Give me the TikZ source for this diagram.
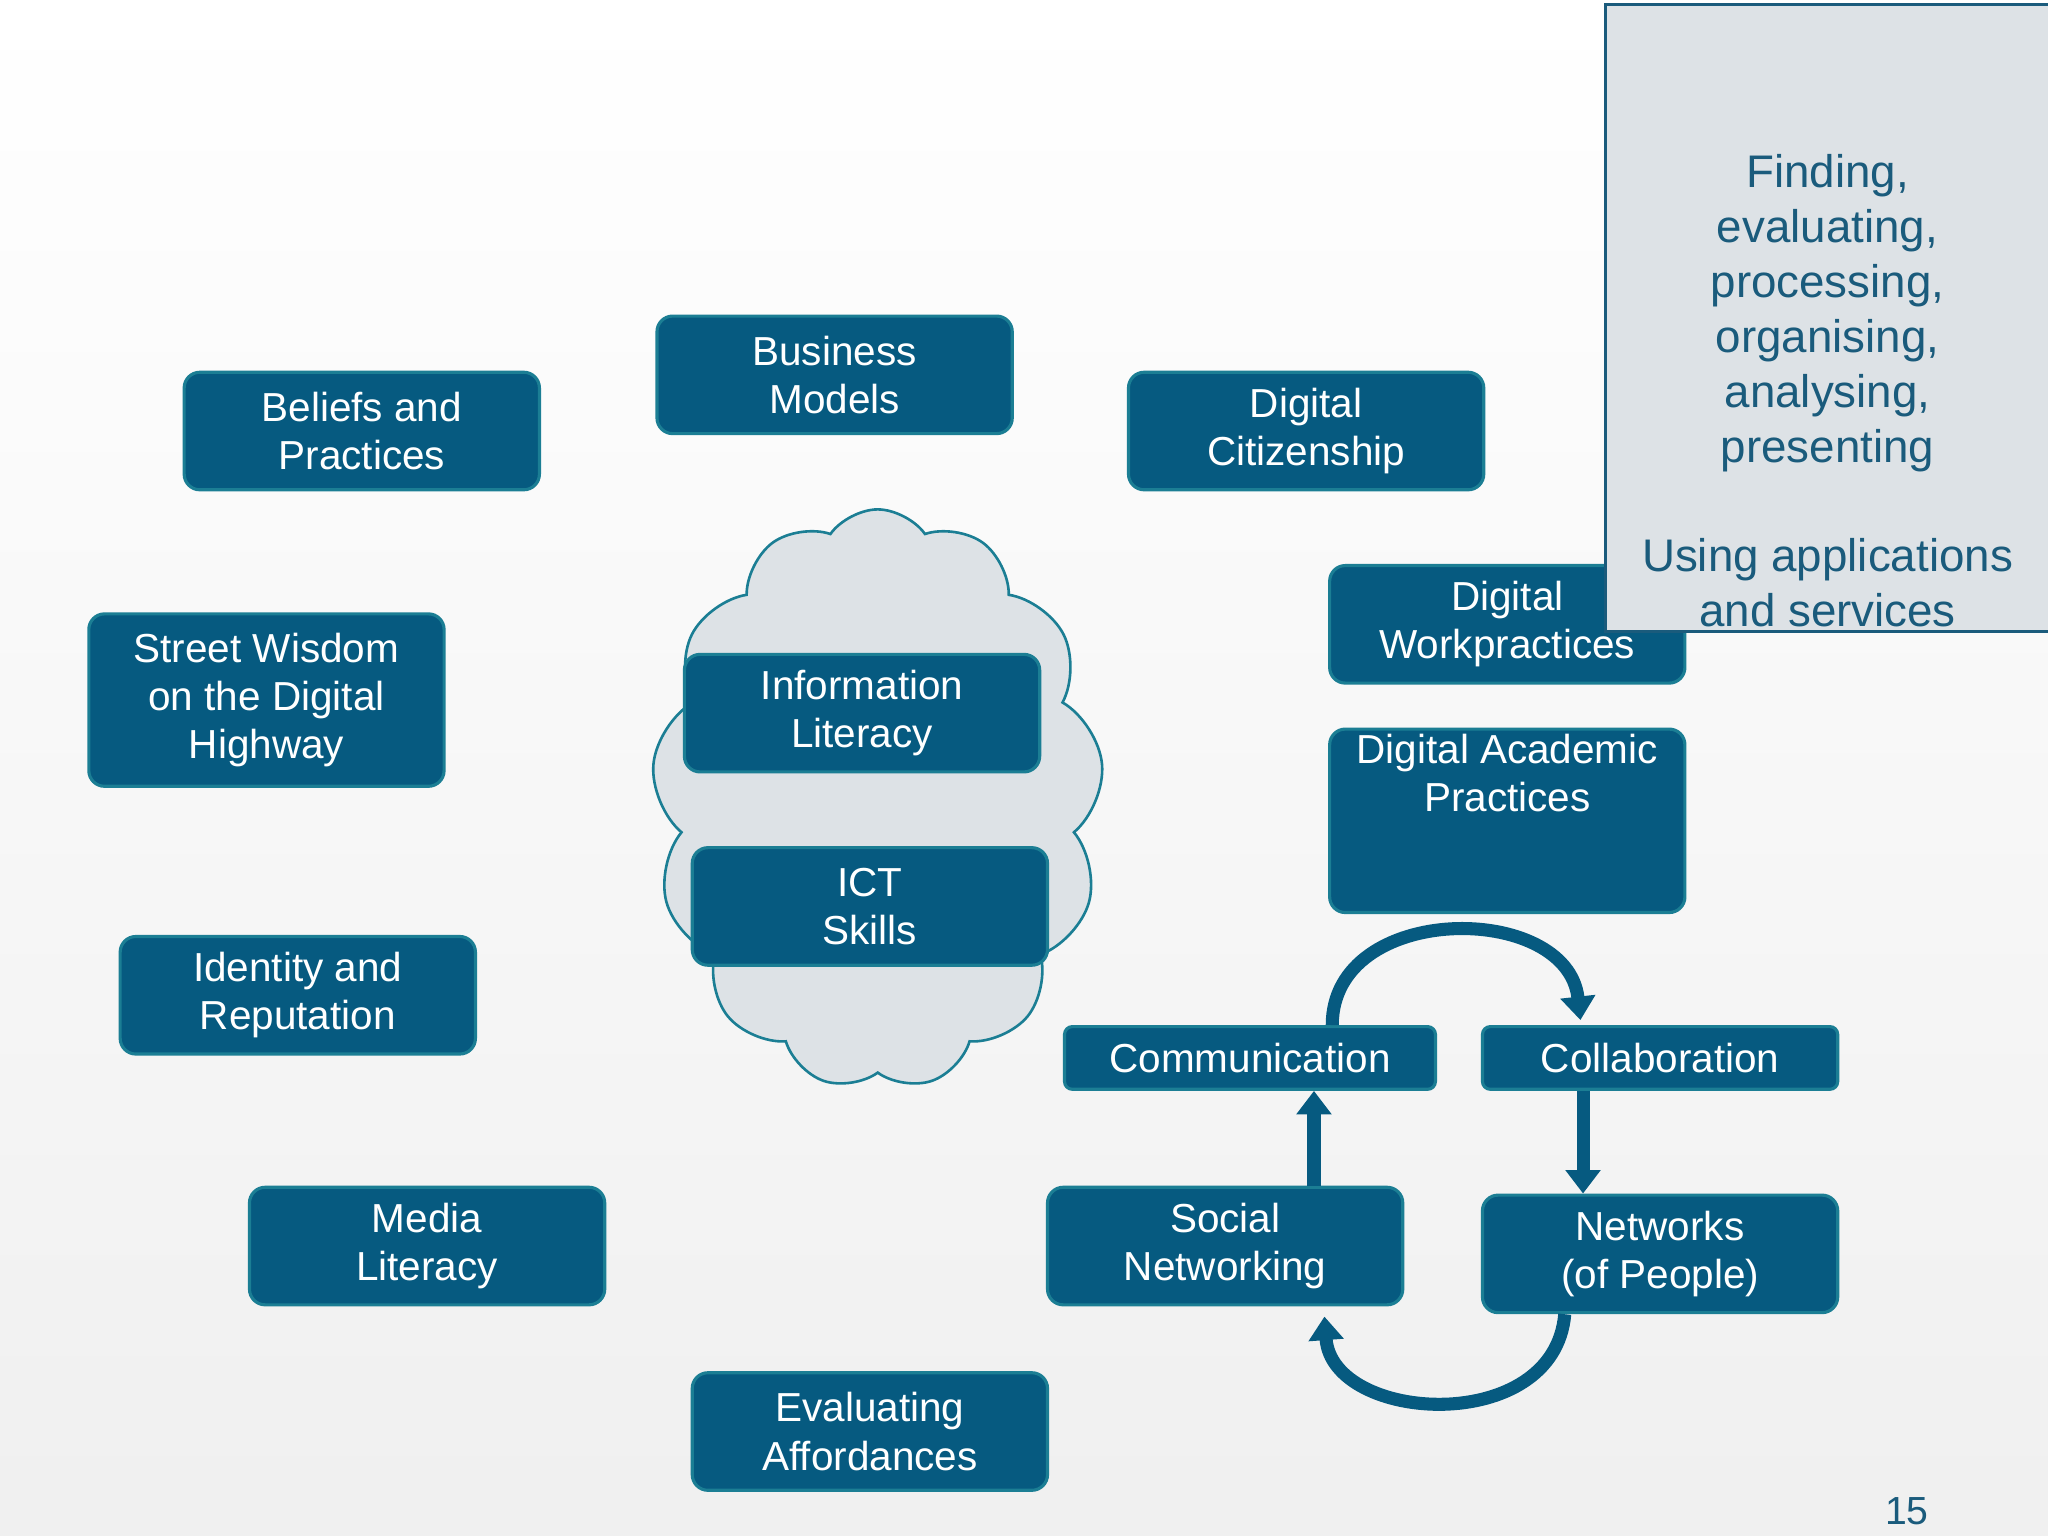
\documentclass[tikz,border=0pt]{standalone}
\usepackage{fontspec}
\setmainfont{Liberation Sans}
\usetikzlibrary{shapes.symbols,arrows.meta}
\definecolor{boxblue}{HTML}{065A80}
\definecolor{boxedge}{HTML}{1B7E94}
\definecolor{textblue}{HTML}{1A5B7C}
\definecolor{cloudgray}{HTML}{DDE2E6}
\begin{document}
\begin{tikzpicture}[x=0.5pt,y=-0.5pt,
    box/.style={draw=boxedge, line width=1.2pt, fill=boxblue, text=white, rounded corners=6pt,
      minimum width=136pt, minimum height=45pt, align=center, inner sep=2pt,
      font=\fontsize{15.5}{18.5}\selectfont},
    flow/.style={draw=boxblue, line width=5pt, -{Triangle[width=13pt,length=9pt]}}]
  % background
  \shade[top color=white, bottom color=gray!12] (0,0) rectangle (1568,1176);
  \useasboundingbox (0,0) rectangle (1568,1176);
  % cloud
  \node[cloud, cloud puffs=13, cloud puff arc=110, aspect=0.8, draw=boxedge, line width=1pt,
    fill=cloudgray, minimum width=173pt, minimum height=222pt] (cloud) at (672,612) {};
  % boxes
  \node[box] (business) at (639,287) {Business\\Models};
  \node[box] (beliefs) at (277,330) {Beliefs and\\Practices};
  \node[box] (citizen) at (1000,330) {Digital\\Citizenship};
  \node[box, minimum height=66pt] (street) at (204,536) {Street Wisdom\\on the Digital\\Highway};
  \node[box] (infolit) at (660,546) {Information\\Literacy};
  \node[box] (ict) at (666,694) {ICT\\Skills};
  \node[box] (workpr) at (1154,478) {Digital\\Workpractices};
  \node[box, minimum height=66pt, anchor=north] (academic) at (1154,557) {Digital Academic\\Practices\\[18pt]};
  \node[box] (identity) at (228,762) {Identity and\\Reputation};
  \node[box] (media) at (327,954) {Media\\Literacy};
  \node[box] (afford) at (666,1096) {Evaluating\\Affordances};
  \node[box, minimum width=142pt, minimum height=24pt, rounded corners=3pt] (comm) at (957,810) {Communication};
  \node[box, minimum height=24pt, rounded corners=3pt] (collab) at (1271,810) {Collaboration};
  \node[box] (social) at (938,954) {Social\\Networking};
  \node[box] (networks) at (1271,960) {Networks\\(of People)};
  % side panel
  \node[draw=textblue, line width=1.2pt, fill=cloudgray, text=textblue, minimum width=170pt,
    minimum height=240pt, anchor=north west, align=center, inner sep=0pt,
    font=\fontsize{17.5}{21}\selectfont, text depth=0pt] (panel) at (1228,2)
    {\raisebox{30pt}{\parbox{170pt}{\centering Finding,\\evaluating,\\processing,\\organising,\\analysing,\\presenting\\[21pt]Using applications\\and services}}};
  \node[text=textblue, font=\fontsize{15}{18}\selectfont] (page) at (1460,1157) {15};
  % arrows
  \draw[flow] (social.north -| 1006,0) -- (comm.south -| 1006,0);
  \draw[flow] (collab.south -| 1212,0) -- (networks.north -| 1212,0);
  \draw[flow] (comm.north -| 1020,0) .. controls (1020,690) and (1200,690) .. (1210,781);
  \draw[flow] (networks.south -| 1198,0) .. controls (1190,1100) and (1020,1090) .. (1014,1008);
\end{tikzpicture}
\end{document}
